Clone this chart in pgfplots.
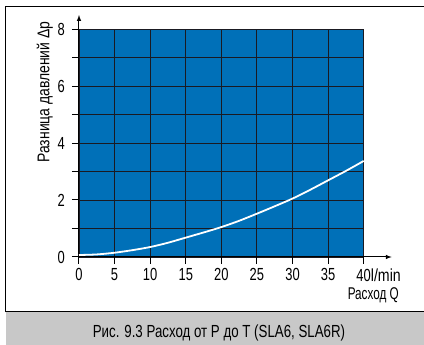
\documentclass[border=0pt]{standalone}
\usepackage{fontspec}
\setmainfont{Liberation Sans}[FakeStretch=0.76]
\newfontfamily\digitfont{Liberation Sans}[FakeStretch=0.74]
\newfontfamily\unitfont{Liberation Sans}[FakeStretch=0.81]
\newfontfamily\xlabfont{Liberation Sans}[FakeStretch=0.69]
\newfontfamily\ylabfont{Liberation Sans}[FakeStretch=0.82]
\usepackage{pgfplots}
\pgfplotsset{compat=1.18}
\definecolor{plotblue}{HTML}{0070B8}
\definecolor{gridc}{HTML}{1A1A22}
\definecolor{bandgrey}{HTML}{C8C8C8}
\begin{document}
\begin{tikzpicture}
\useasboundingbox (-79pt,-88pt) rectangle (345pt,257pt);
\fill[bandgrey] (-73pt,-55pt) rectangle (345pt,-88pt);
\draw[line width=1pt] (-73pt,-55pt) -- (345pt,-55pt);
\draw[line width=1pt] (-73pt,-55.5pt) -- (-73pt,250pt) -- (345pt,250pt);
\node[font=\fontsize{17.5}{20}\selectfont, anchor=base, inner sep=0pt] at (140pt,-80.7pt) {Рис. 9.3 Расход от P до T (SLA6, SLA6R)};
\begin{axis}[
  at={(0pt,0pt)}, anchor=origin,
  scale only axis, width=284.7pt, height=228pt,
  xmin=0, xmax=40, ymin=0, ymax=8,
  axis lines=left,
  axis line style={line width=1pt},
  x axis line style={-latex, shorten >=-28pt},
  y axis line style={-latex, shorten >=-14pt},
  xtick={0,5,...,40},
  xticklabels={0,5,10,15,20,25,30,35,{40\rlap{\unitfont l/min}}},
  ytick={0,2,...,8},
  minor ytick={1,3,5,7},
  tick align=outside,
  major tick length=7pt, minor tick length=7pt,
  tick style={black, line width=1pt},
  grid=both,
  major grid style={gridc, line width=0.9pt},
  minor grid style={gridc, line width=0.9pt},
  axis background/.style={fill=plotblue},
  /pgf/number format/assume math mode=true,
  tick label style={font=\digitfont\fontsize{17.5}{19}\selectfont},
  xticklabel style={inner sep=0pt, yshift=-4.5pt},
  yticklabel style={inner sep=0pt, xshift=-7pt},
  clip=false,
]
\addplot[white, line width=1.8pt, smooth] coordinates {
(0,0.07) (2.5,0.09) (5,0.15) (7.5,0.24) (10,0.35) (12.5,0.5) (15,0.68)
(17.5,0.86) (20,1.05) (22.5,1.27) (25,1.52) (27.5,1.78) (30,2.05)
(32.5,2.36) (35,2.69) (37.5,3.02) (40,3.37)};
\end{axis}
\node[font=\xlabfont\fontsize{17}{19}\selectfont, anchor=base east, inner sep=0pt] at (320pt,-43pt) {Расход Q};
\node[font=\ylabfont\fontsize{17}{19}\selectfont, rotate=90, anchor=base, inner sep=0pt] at (-29.7pt,165pt) {Разница давлений Δp};
\end{tikzpicture}
\end{document}
